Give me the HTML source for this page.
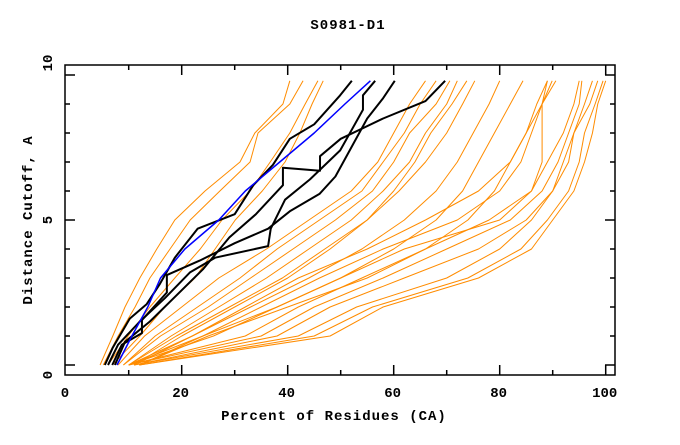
<!DOCTYPE html>
<html><head><meta charset="utf-8"><style>
html,body{margin:0;padding:0;background:#fff}
svg text{font-family:"Liberation Mono",monospace;font-weight:bold;fill:#000}
</style></head><body>
<svg id="chart" width="680" height="440" xmlns="http://www.w3.org/2000/svg">
<text x="348" y="29" text-anchor="middle" font-size="14" letter-spacing="1">S0981-D1</text>
<text x="334" y="420" text-anchor="middle" font-size="14" letter-spacing="1">Percent of Residues (CA)</text>
<text transform="translate(32,220) rotate(-90)" text-anchor="middle" font-size="14" letter-spacing="1">Distance Cutoff, A</text>
<g id="axes"></g>
<g id="series"></g>
<rect x="65" y="65" width="550" height="310" fill="none" stroke="#000" stroke-width="1.5"/>
</svg>
<script>
const yLevels = [0,1,2,3,4,5,6,7,8,9,9.8];
const orangeLines = [
 [4.6,7.0,9.3,12.1,15.3,18.7,24.4,31,33.8,39.1,40.4],
 [5.2,8,11.2,14,17.8,21.6,27.2,32.9,34.4,40.4,42.9],
 [6.1,9.9,14,18.7,23.5,27.6,32.9,36.7,40.4,43.3,45.7],
 [6.9,12.1,16.8,22.5,26.3,30.1,35.2,39.5,42.3,44.6,46.7],
 [8,13,20,27,36,44,52,57,60,63,66],
 [9,15,23,31,38,46,54,58,62,65,68],
 [9,16,25,33,41,49,56,60,63,68,70.6],
 [10,18,27,36,44,52,58,63,66,70,72],
 [10,19,29,39,47,55,60,64,67,71,73.8],
 [11,20,30,40,48,55,61,66,70,73,75.3],
 [11,22,33,44,54,62,68,72,75,78,80],
 [12,24,38,50,60,68,73,76,79,82,84.4],
 [12,25,40,55,66,74,79,82,85,87,89],
 [10,26,38,50,62,80,86,88,88,88,89.9],
 [10,24,35,46,58,72,80,84,86,88,89],
 [10,22,32,42,55,66,76,82,85,88,90.6],
 [12,48,58,76,86,90,94,96,97.5,98.5,100],
 [12,45,56,74,84,89,93,95,96,98,99.5],
 [11,42,53,70,80,86,90,92,94,97,98.5],
 [11,38,48,62,76,85,90,93,94,96,97.5],
 [10,35,45,58,70,82,88,91,93,95,95.5],
 [10,32,42,54,66,78,86,89,92,94,95]
];
const black1X = [5.5,7,10.2,13.4,15.9,18.7,23,30,33.5,37.2,40.4,45,49.9,52.1];
const black1Y = [0,0.6,1.6,2.1,2.8,3.7,4.7,5.2,6.2,6.9,7.8,8.3,9.3,9.8];
const black2X = [6.1,8,12.1,16.8,21.6,26.3,36.3,36.8,39.5,44.2,49.9,54.2,54.2,56.5];
const black2Y = [0,0.7,1.5,2.3,3.2,3.7,4.1,4.7,5.7,6.4,7.4,8.8,9.3,9.8];
const black3X = [6.9,8.7,12.5,12.5,17.2,17.2,23.4,30,36.3,40.4,46,49,52,55,58,60.2];
const black3Y = [0,0.7,1.1,1.55,2.5,3.1,3.6,4.2,4.7,5.3,5.9,6.5,7.5,8.5,9.2,9.8];
const black4X = [7.4,9.3,14,19,24,29,34,39.1,39.1,46.1,46.1,50,58,66,69.7];
const black4Y = [0,0.8,1.5,2.4,3.3,4.4,5.2,6.2,6.8,6.7,7.2,7.8,8.5,9.1,9.8];
const blueX = [7.8,10.6,13.6,16,20.6,27,32,38.5,45,50.8,55.6];
const blueY = [0,1,2,3,4,5,6,7,8,9,9.8];
const xTicks = [0,20,40,60,80,100];
const yTicks = [0,5,10];

const NS='http://www.w3.org/2000/svg';
const X=v=>75.7+5.3*v, Y=v=>365-29*v;
const axes=document.getElementById('axes'), ser=document.getElementById('series');
function mk(tag,parent){const e=document.createElementNS(NS,tag);parent.appendChild(e);return e;}
function line(x1,y1,x2,y2){const l=mk('line',axes);l.setAttribute('x1',x1);l.setAttribute('y1',y1);l.setAttribute('x2',x2);l.setAttribute('y2',y2);l.setAttribute('stroke','#000');l.setAttribute('stroke-width','1.5');

}
for(let v=10;v<=100;v+=10){const L=v%20===0?10:5;line(X(v),375,X(v),375-L);line(X(v),65,X(v),65+L);}
for(let v=0;v<=10;v++){const L=v%5===0?10:5;line(65,Y(v),65+L,Y(v));line(615,Y(v),615-L,Y(v));}
xTicks.forEach(v=>{const t=mk('text',axes);t.setAttribute('x',v===0?65:X(v)-1);t.setAttribute('y',397);t.setAttribute('text-anchor','middle');t.setAttribute('font-size','14');t.textContent=v;

});
yTicks.forEach(v=>{const t=mk('text',axes);t.setAttribute('transform',`translate(52,${v===10?63:(v===0?375:Y(v))}) rotate(-90)`);t.setAttribute('text-anchor','middle');t.setAttribute('font-size','14');t.textContent=v;

});
function poly(xs,ys,color,w,name){const p=mk('polyline',ser);p.setAttribute('points',xs.map((x,i)=>X(x)+','+Y(ys[i])).join(' '));p.setAttribute('fill','none');p.setAttribute('stroke',color);p.setAttribute('stroke-width',w);p.setAttribute('stroke-linejoin','round');

}
orangeLines.forEach((xs,i)=>poly(xs,yLevels,'#ff8c00',1,'orange-model-line'));
poly(black1X,black1Y,'#000',2,'black-model-line');
poly(black2X,black2Y,'#000',2,'black-model-line');
poly(black3X,black3Y,'#000',2,'black-model-line');
poly(black4X,black4Y,'#000',2,'black-model-line');
poly(blueX,blueY,'#0000ff',1.5,'blue-model-line');
</script>
</body></html>
